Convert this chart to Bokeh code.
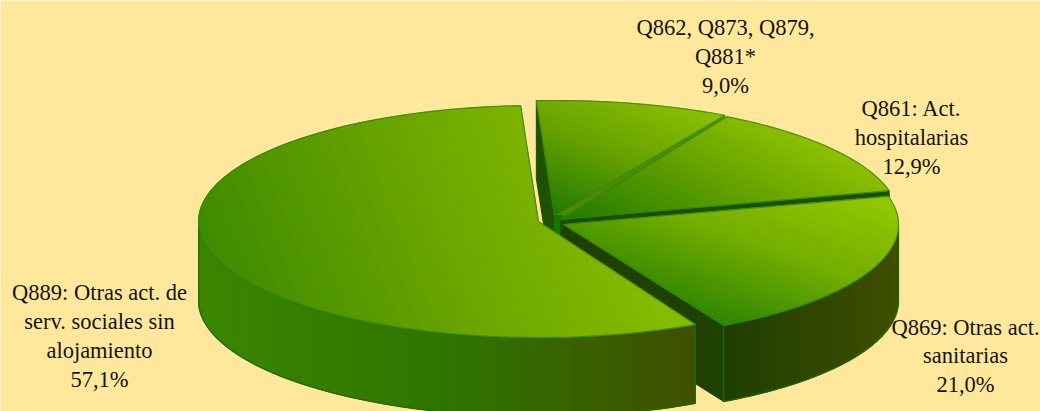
import math
from bokeh.plotting import figure
from bokeh.models import Range1d
from bokeh.core.properties import value
from bokeh.embed import file_html
from bokeh.resources import INLINE

# --- data, clockwise from just left of 12 o'clock ---
categories = [["Q862, Q873, Q879,", "Q881*"], ["Q861: Act.", "hospitalarias"],
              ["Q869: Otras act.", "sanitarias"], ["Q889: Otras act. de", "serv. sociales sin", "alojamiento"]]
shares = [9.0, 12.9, 21.0, 57.1]

# --- geometry (reference pixels) ---
BG = "#FFE89C"
W, H = 1040, 411
START = -3.0
APEX = [(554, 215), (560, 219), (563, 224), (538, 221)]
RX = [347, 339, 335, 340]
RY = [115, 118, 115, 116]
DEPTH = [78, 78, 76, 79]
TRIM = [0, 0, 0, 1.1]
TOP_DIR = [(0.4, -1), (0.5, -1), (0.35, -1), (1, -0.4)]
TOP_STOPS = [["#1F7A00", "#64A000", "#8CC000"], ["#1F7A00", "#5C9C00", "#8CC000"],
             ["#2E8400", "#74AE00", "#93CA00"], ["#3F8B00", "#68A400", "#88BE00"]]
SIDE_STOPS = [["#1E4A00", "#1E4A00"], ["#2A5C00", "#2A5C00"], ["#1E3E00", "#3F4E00"], ["#3A8600", "#2F7400", "#3F5000"]]
WALL = ["#4C8A00", "#175000", "#1E4000", "#244600"]
LEFT_WALL = "#1F5200"
CORE = "#147800"
EDGE = "#1F6A00"
LABEL_POS = [(725, [27, 56, 85]), (911, [108, 137, 166]), (965, [327, 355, 384]), (99, [292, 321, 350, 379])]

p = figure(width=W, height=H, x_range=Range1d(0, W), y_range=Range1d(H, 0),
           output_backend="svg", toolbar_location=None, min_border=0,
           background_fill_color=BG, border_fill_color=BG, outline_line_color=None)
p.axis.visible = False
p.grid.visible = False


def hex2(c):
    return [int(c[i:i + 2], 16) for i in (1, 3, 5)]


def ramp(stops, t):
    t = min(max(t, 0), 1) * (len(stops) - 1)
    i = min(int(t), len(stops) - 2)
    a, b = hex2(stops[i]), hex2(stops[i + 1])
    f = t - i
    return "#%02X%02X%02X" % tuple(round(a[k] + (b[k] - a[k]) * f) for k in range(3))


def clip(poly, d, lo, hi):
    def half(pts, sign, lim):
        out = []
        for i, a in enumerate(pts):
            b = pts[(i + 1) % len(pts)]
            fa = sign * (a[0] * d[0] + a[1] * d[1] - lim)
            fb = sign * (b[0] * d[0] + b[1] * d[1] - lim)
            if fa >= 0:
                out.append(a)
            if (fa >= 0) != (fb >= 0):
                s = fa / (fa - fb)
                out.append((a[0] + (b[0] - a[0]) * s, a[1] + (b[1] - a[1]) * s))
        return out
    r = half(poly, 1, lo)
    return half(r, -1, hi) if r else r


def banded(polys, d, stops, n):
    # every part is convex, so that clipping leaves no stray edges; the ramp spans them all
    vals = [q[0] * d[0] + q[1] * d[1] for poly in polys for q in poly]
    lo, hi = min(vals), max(vals)
    xs, ys, cs = [], [], []
    for poly in polys:
        for i in range(n):
            a = lo + (hi - lo) * i / n
            b = lo + (hi - lo) * (i + 1) / n
            r = clip(poly, d, a, b)
            if len(r) >= 3:
                xs.append([q[0] for q in r])
                ys.append([q[1] for q in r])
                cs.append(ramp(stops, (i + .5) / n))
    p.patches(xs, ys, fill_color=cs, line_color=cs, line_width=1)


def pt(i, deg, dz=0):
    t = math.radians(deg)
    return (APEX[i][0] + RX[i] * math.sin(t), APEX[i][1] - RY[i] * math.cos(t) + dz)


# slice angles from the shares
a0 = START
spans = []
for v in shares:
    spans.append((a0, a0 + v * 3.6))
    a0 += v * 3.6

# draw from back to front
for i, (s, e) in enumerate(spans):
    s += TRIM[i]
    dz = DEPTH[i]
    arc = [s + (e - s) * k / 120 for k in range(121)]
    # cut wall at the start of the first slice (visible at its left)
    if i == 0:
        q = [pt(i, s), APEX[i], (APEX[i][0], APEX[i][1] + dz), pt(i, s, dz)]
        p.patch([c[0] for c in q], [c[1] for c in q], fill_color=LEFT_WALL, line_color=LEFT_WALL)
    # cut wall at the end of the slice, facing the viewer
    if i < 3:
        q = [APEX[i], pt(i, e), pt(i, e, dz), (APEX[i][0], APEX[i][1] + dz)]
        p.patch([c[0] for c in q], [c[1] for c in q], fill_color=WALL[i], line_color=WALL[i])
    # the bright core seen where the slices meet
    if i == 0:
        cx = [APEX[0][0], APEX[2][0], APEX[2][0], APEX[0][0]]
        cy = [APEX[0][1], APEX[0][1], APEX[0][1] + dz, APEX[0][1] + dz]
        p.patch(cx, cy, fill_color=CORE, line_color=CORE)
    # outer wall, visible part of the rim only
    vis = [a for a in arc if 90 <= a <= 270]
    if len(vis) > 1:
        top = [pt(i, a) for a in vis]
        bot = [pt(i, a, dz) for a in reversed(vis)]
        banded([top + bot], (1, 0), SIDE_STOPS[i], 40)
        outline = top + bot + top[:1]
        p.line([c[0] for c in outline], [c[1] for c in outline], line_color=EDGE, line_width=1.3)
    # top face, cut in two convex halves
    m = len(arc) // 2
    halves = [[APEX[i]] + [pt(i, a) for a in arc[:m + 1]], [APEX[i]] + [pt(i, a) for a in arc[m:]]]
    banded(halves, TOP_DIR[i], TOP_STOPS[i], 50)
    face = [APEX[i]] + [pt(i, a) for a in arc] + [APEX[i]]
    p.line([c[0] for c in face], [c[1] for c in face], line_color="#2F7F14", line_width=1.2, line_alpha=.7)

# labels
tx, ty, tt = [], [], []
for lines, v, (cx, ys) in zip(categories, shares, LABEL_POS):
    rows = lines + [f"{v:.1f}%".replace(".", ",")]
    for r, y in zip(rows, ys):
        tx.append(cx); ty.append(y); tt.append(r)
p.text(tx, ty, text=tt, text_font=value("Liberation Serif"), text_font_size="22.5px",
       text_color="#141414", text_align="center", text_baseline="middle")

open("out.html", "w").write(file_html(p, INLINE))
